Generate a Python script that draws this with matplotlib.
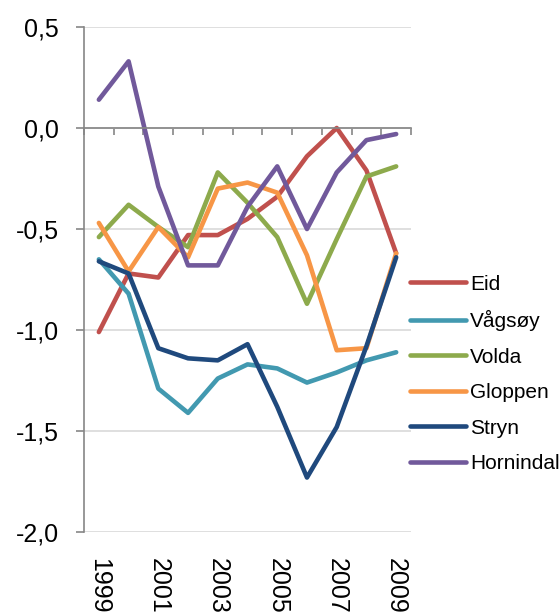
import numpy as np
import matplotlib
matplotlib.use('Agg')
import matplotlib.pyplot as plt
from matplotlib.ticker import FixedLocator, FuncFormatter

years = list(range(1999, 2010))
eid = [-1.01, -0.72, -0.74, -0.53, -0.53, -0.45, -0.34, -0.14, 0.00, -0.21, -0.62]
vagsoy = [-0.65, -0.82, -1.29, -1.41, -1.24, -1.17, -1.19, -1.26, -1.21, -1.15, -1.11]
volda = [-0.54, -0.38, -0.49, -0.59, -0.22, -0.37, -0.54, -0.87, -0.55, -0.24, -0.19]
gloppen = [-0.47, -0.71, -0.49, -0.64, -0.30, -0.27, -0.32, -0.63, -1.10, -1.09, -0.62]
stryn = [-0.66, -0.72, -1.09, -1.14, -1.15, -1.07, -1.38, -1.73, -1.48, -1.08, -0.64]
hornindal = [0.14, 0.33, -0.29, -0.68, -0.68, -0.39, -0.19, -0.50, -0.22, -0.06, -0.03]

series = [
    ('Eid', eid, '#C0504D'),
    ('Vågsøy', vagsoy, '#4299B0'),
    ('Volda', volda, '#8DAA4C'),
    ('Gloppen', gloppen, '#F79646'),
    ('Stryn', stryn, '#1F497D'),
    ('Hornindal', hornindal, '#71599B'),
]

plt.rcParams['font.family'] = ['Liberation Sans', 'DejaVu Sans']

fig = plt.figure(figsize=(5.6, 6.13), dpi=100)
ax = fig.add_axes([0.15, 0.132, 0.584, 0.824])

x = np.arange(len(years))
for name, vals, color in series:
    ax.plot(x, vals, color=color, lw=3.3, label=name,
            solid_capstyle='round', solid_joinstyle='round')

ax.set_xlim(-0.5, len(years) - 0.5)
ax.set_ylim(-2.0, 0.5)
ax.set_yticks([-2.0, -1.5, -1.0, -0.5, 0.0, 0.5])
ax.yaxis.set_major_formatter(FuncFormatter(lambda v, p: f'{v:.1f}'.replace('.', ',')))
ax.tick_params(axis='y', labelsize=18, length=6, width=1.2, color='#868686', pad=12)
ax.grid(axis='y', color='#D9D9D9', lw=1.2)
ax.set_axisbelow(True)

for s in ['top', 'right']:
    ax.spines[s].set_visible(False)
ax.spines['left'].set_color('#868686')
ax.spines['left'].set_linewidth(1.2)
ax.spines['bottom'].set_position(('data', 0))
ax.spines['bottom'].set_color('#868686')
ax.spines['bottom'].set_linewidth(1.2)

# category boundaries as ticks on the zero line
ax.xaxis.set_major_locator(FixedLocator(np.arange(len(years) + 1) - 0.5))
ax.tick_params(axis='x', length=5, width=1.2, color='#868686', labelbottom=False)

# year labels at the bottom
sec = ax.secondary_xaxis(0.0)
sec.set_xticks(x[::2])
sec.set_xticklabels([str(y) for y in years[::2]], rotation=-90, fontsize=18)
sec.tick_params(length=0, pad=19)
sec.spines['bottom'].set_visible(False)

fig.legend(loc='center left', bbox_to_anchor=(0.732, 0.390), frameon=False,
           fontsize=15, handlelength=2.7, handletextpad=0.2, labelspacing=0.79,
           borderpad=0, borderaxespad=0)

fig.savefig('out.png', dpi=100)
